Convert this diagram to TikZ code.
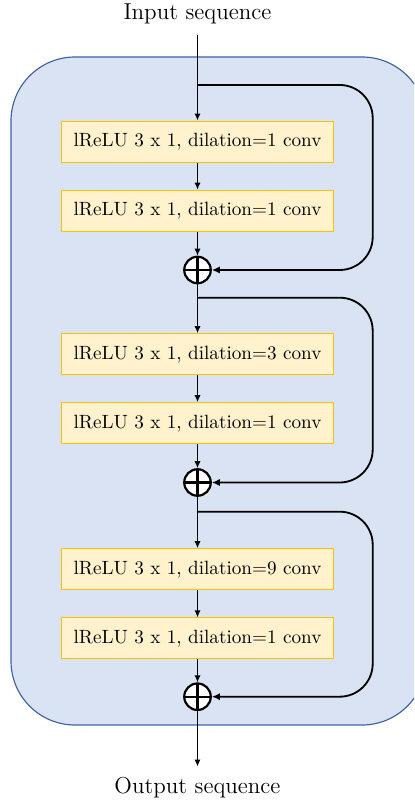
\documentclass[tikz,border=0pt]{standalone}
\usetikzlibrary{arrows.meta}
\def\pxu{0.5214pt}
\definecolor{outerfill}{HTML}{DAE3F3}
\definecolor{outerdraw}{HTML}{3F62A0}
\definecolor{boxfill}{HTML}{FFF2CC}
\definecolor{boxdraw}{HTML}{FFC000}
\tikzset{
  convbox/.style={draw=boxdraw, fill=boxfill, line width=0.6pt,
    minimum width=271.6*\pxu, minimum height=41*\pxu, inner sep=0pt,
    font=\normalsize},
  addnode/.style={circle, draw, line width=1.15pt, fill=white,
    minimum size=26.5*\pxu, inner sep=0pt,
    path picture={\draw[line width=1.15pt]
      (path picture bounding box.north) -- (path picture bounding box.south)
      (path picture bounding box.west) -- (path picture bounding box.east);}},
  seqlabel/.style={font=\large, inner sep=5.6pt},
  arr/.style={line width=0.6pt, -{Latex[length=3.6pt,width=3.2pt]}},
  skiparr/.style={line width=0.95pt, rounded corners=33*\pxu,
    -{Latex[length=4.2pt,width=3.8pt]}},
}
\begin{document}
\begin{tikzpicture}[x=\pxu, y=-\pxu]
\useasboundingbox (0,0) rectangle (414,804);
\begin{scope}
\clip (0,0) rectangle (414,804);
\draw[fill=outerfill, draw=outerdraw, line width=0.6pt, rounded corners=64*\pxu]
  (11,57) rectangle (426,725);
\end{scope}

\node[seqlabel] (in) at (197.5,14) {Input sequence};
\node[seqlabel] (out) at (197.5,788) {Output sequence};

\node[convbox] (b1) at (197.5,141.6) {lReLU 3 x 1, dilation=1 conv};
\node[convbox] (b2) at (197.5,210.7) {lReLU 3 x 1, dilation=1 conv};
\node[addnode] (s1) at (197.5,270) {};

\node[convbox] (b3) at (197.5,354.2) {lReLU 3 x 1, dilation=3 conv};
\node[convbox] (b4) at (197.5,423.2) {lReLU 3 x 1, dilation=1 conv};
\node[addnode] (s2) at (197.5,482.5) {};

\node[convbox] (b5) at (197.5,569.2) {lReLU 3 x 1, dilation=9 conv};
\node[convbox] (b6) at (197.5,638.4) {lReLU 3 x 1, dilation=1 conv};
\node[addnode] (s3) at (197.5,696.7) {};

\coordinate (j1) at (197.5,85);
\coordinate (j2) at (197.5,297.7);
\coordinate (j3) at (197.5,511.7);
\coordinate (r1) at (372.7,270);
\coordinate (r2) at (372.7,482.5);
\coordinate (r3) at (372.7,696.7);

\draw[arr] (in.south) -- (b1.north);
\draw[arr] (b1) -- (b2);
\draw[arr] (b2) -- (s1);
\draw[arr] (s1) -- (b3);
\draw[arr] (b3) -- (b4);
\draw[arr] (b4) -- (s2);
\draw[arr] (s2) -- (b5);
\draw[arr] (b5) -- (b6);
\draw[arr] (b6) -- (s3);
\draw[arr] (s3) -- (out.north);

\draw[skiparr] (j1) -| (r1) -- (s1.east);
\draw[skiparr] (j2) -| (r2) -- (s2.east);
\draw[skiparr] (j3) -| (r3) -- (s3.east);
\end{tikzpicture}
\end{document}
